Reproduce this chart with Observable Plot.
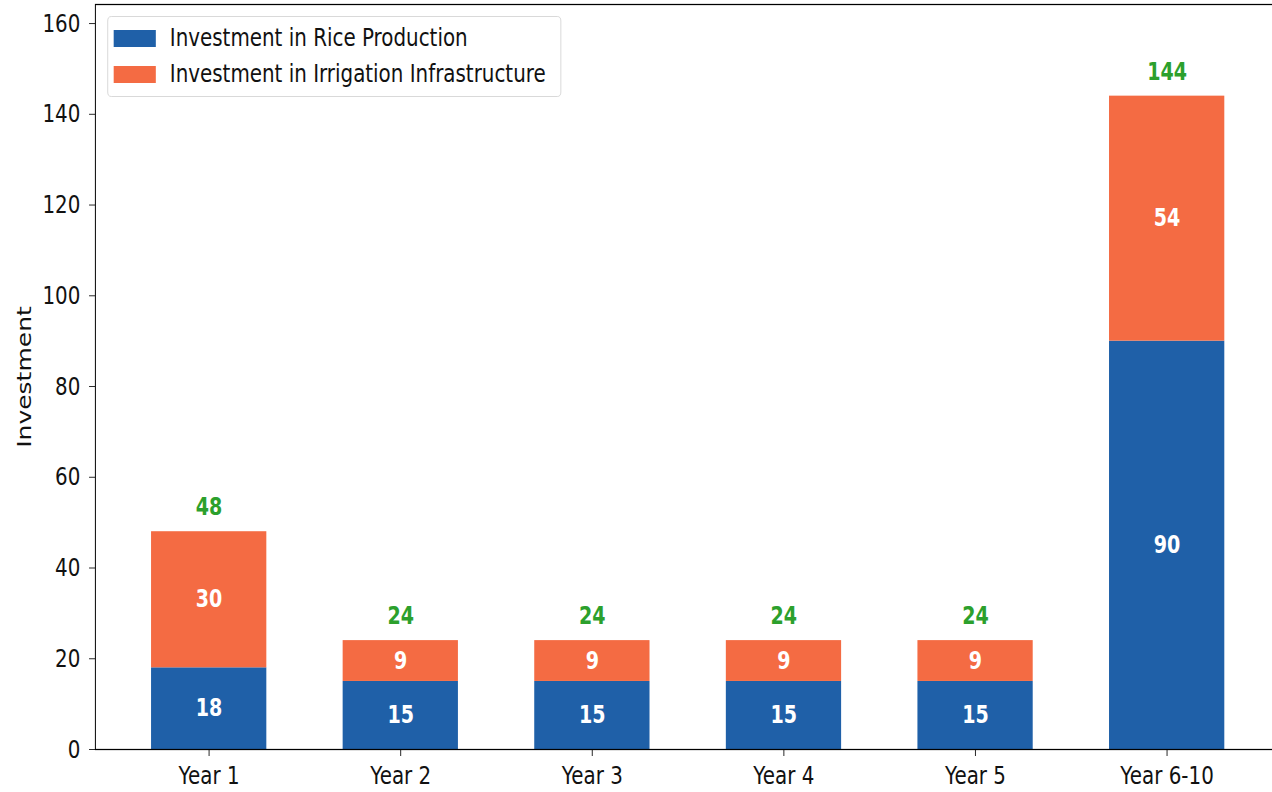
<!DOCTYPE html>
<html>
<head>
<meta charset="utf-8">
<script src="https://cdn.jsdelivr.net/npm/d3@7"></script>
<script src="https://cdn.jsdelivr.net/npm/@observablehq/plot@0.6"></script>
<style>
  html, body { margin: 0; padding: 0; background: white; }
  #wrap { width: 1272px; height: 792px; overflow: hidden; position: relative; }
  #inner { width: 1610px; height: 792px; position: relative; transform: scaleX(0.795); transform-origin: 0 0; }
  #legend { position: absolute; left: 134.6px; top: 16px; width: 571px; height: 81px; box-sizing: border-box;
    border: 1.3px solid #d4d4d4; border-radius: 5px; background: rgba(255,255,255,0.85);
    font-family: "DejaVu Sans", sans-serif; font-size: 25px; color: #111; }
  .item { position: absolute; left: 0; height: 30px; display: flex; align-items: center; }
  .sw { position: absolute; left: 7.4px; width: 53px; height: 17px; }
  .lbl { position: absolute; left: 78px; white-space: nowrap; line-height: 30px; }
</style>
</head>
<body>
<div id="wrap"><div id="inner"><div id="chart"></div><div id="legend"></div></div></div>
<script>
const categories = ["Year 1", "Year 2", "Year 3", "Year 4", "Year 5", "Year 6-10"];
const riceInvestment = [18, 15, 15, 15, 15, 90];
const irrigationInvestment = [30, 9, 9, 9, 9, 54];
const seriesNames = ["Investment in Rice Production", "Investment in Irrigation Infrastructure"];
const seriesColors = ["#1f60a8", "#f46b43"];
const totalColor = "#2ca02c";
const yTicks = [0, 20, 40, 60, 80, 100, 120, 140, 160];

const rows = [];
categories.forEach((c, i) => {
  rows.push({category: c, series: seriesNames[0], value: riceInvestment[i]});
  rows.push({category: c, series: seriesNames[1], value: irrigationInvestment[i]});
});
const totals = categories.map((c, i) => ({category: c, total: riceInvestment[i] + irrigationInvestment[i]}));

const chart = Plot.plot({
  width: 1610, height: 792,
  marginLeft: 119.5, marginRight: 0, marginTop: 4, marginBottom: 43,
  style: {fontFamily: "DejaVu Sans, sans-serif", fontSize: "25px", color: "#111", background: "white", overflow: "visible"},
  x: {domain: categories, paddingInner: 0.4, paddingOuter: 0.29, label: null, tickSize: 7, tickPadding: 9.5},
  y: {domain: [0, 164.2], ticks: yTicks, label: "Investment", labelAnchor: "center", labelArrow: "none",
      labelOffset: 99, tickSize: 7.5, tickPadding: 11.4},
  color: {domain: seriesNames, range: seriesColors},
  marks: [
    Plot.barY(rows, {x: "category", y: "value", fill: "series", z: "series"}),
    Plot.text(rows, Plot.stackY({x: "category", y: "value", z: "series", text: "value",
      fill: "white", fontWeight: "bold", fontSize: 24})),
    Plot.text(totals, {x: "category", y: "total", text: "total", dy: -24,
      fill: totalColor, fontWeight: "bold", fontSize: 24}),
    Plot.frame({stroke: "black", strokeWidth: 1.25})
  ]
});
document.getElementById("chart").appendChild(chart);

const legend = document.getElementById("legend");
seriesNames.forEach((name, i) => {
  const item = document.createElement("div");
  item.className = "item";
  item.style.top = (i === 0 ? 6 : 42) + "px";
  const sw = document.createElement("div");
  sw.className = "sw";
  sw.style.background = seriesColors[i];
  const lbl = document.createElement("div");
  lbl.className = "lbl";
  lbl.textContent = name;
  item.appendChild(sw);
  item.appendChild(lbl);
  legend.appendChild(item);
});
</script>
</body>
</html>
